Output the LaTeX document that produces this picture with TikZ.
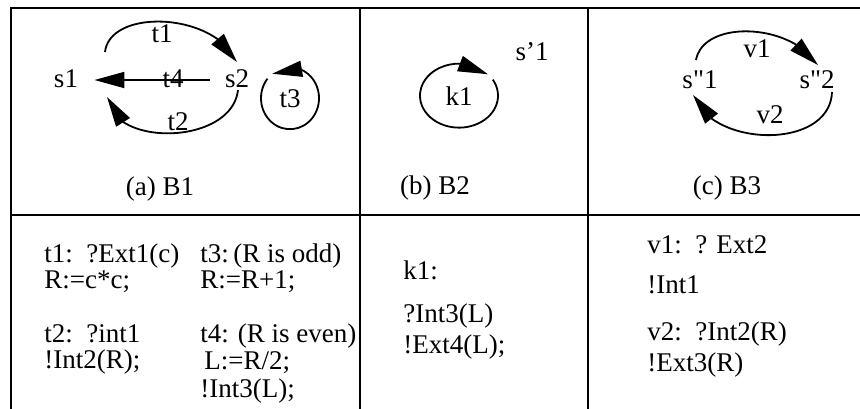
\documentclass[tikz,border=0pt]{standalone}
\usepackage{fontspec}
\setmainfont{Liberation Serif}[Ligatures=TeXOff]
\usetikzlibrary{arrows.meta, bending}
\tikzset{
  frame/.style = {line width=1.1pt},
  arr/.style = {-{Triangle[length=15pt, width=8pt]}, line width=0.9pt},
  state/.style = {inner sep=0pt, anchor=base},
  codeline/.style = {inner sep=0pt, anchor=base west}
}

\begin{document}
\begin{tikzpicture}[x=0.5pt, y=-0.5pt, font=\fontsize{13.5}{16}\selectfont]
\useasboundingbox (0,0) rectangle (860,408);
% table frame
\draw[frame] (11,420) -- (11,8) -- (880,8);
\draw[frame] (11,215) -- (880,215);
\draw[frame] (360,8) -- (360,420);
\draw[frame] (588,8) -- (588,420);

% (a) B1
\node[state] (s1) at (66,87) {s1};
\node[state] (s2) at (237,87) {s2};
\node[state] (t3) at (290,107) {t3};
\node[state] (lt1) at (162,42) {t1};
\node[state] (lt2) at (178,130) {t2};
\draw[arr] ([shift={(-15,-7)}]s2.base west) -- ([shift={(16,-7)}]s1.base east);
\node[state] (lt4) at (173,87) {t4};
\draw[arr] ([shift={(39,-35)}]s1.base) .. controls (110,8) and (215,12) .. ([shift={(0,-25)}]s2.base);
\draw[arr] ([shift={(1,3)}]s2.base) .. controls (232,145) and (112,148) .. ([shift={(41,10)}]s1.base);
\draw[arr] ([shift={(219:29 and 31)}]t3.center) arc[start angle=219, end angle=-128, x radius=29, y radius=31];
\node[state] (capa) at (160,195) {(a) B1};

% (b) B2
\node[state] (sp1) at (532,60) {s’1};
\node[state] (k1) at (459,105) {k1};
\draw[arr] ([shift={(-30:39 and 32)}]k1.center) arc[start angle=-30, end angle=318, x radius=39, y radius=32];
\node[state] (capb) at (435,194) {(b) B2};

% (c) B3
\node[state] (ss1) at (700,88) {s"1};
\node[state] (ss2) at (817,88) {s"2};
\node[state] (lv1) at (757,57) {v1};
\node[state] (lv2) at (770,123) {v2};
\draw[arr] ([shift={(-4,-28)}]ss1.base) .. controls (703,20) and (790,22) .. ([shift={(1,-23)}]ss2.base);
\draw[arr] ([shift={(15,4)}]ss2.base) .. controls (830,150) and (712,148) .. ([shift={(-7,7)}]ss1.base);
\node[state] (capc) at (727,194) {(c) B3};

% transition code
\node[codeline] (c1a) at (44,262) {t1:\ \ ?Ext1(c)};
\node[codeline] (c1b) at (44,288) {R:=c*c;};
\node[codeline] (c2a) at (44,342) {t2:\ \ ?int1};
\node[codeline] (c2b) at (44,368) {!Int2(R);};
\node[codeline] (c3a) at (200,262) {t3:\,(R is odd)};
\node[codeline] (c3b) at (200,288) {R:=R+1;};
\node[codeline] (c4a) at (200,342) {t4: (R is even)};
\node[codeline] (c4b) at (204,369) {L:=R/2;};
\node[codeline] (c4c) at (200,397) {!Int3(L);};
\node[codeline] (k1a) at (403,279) {k1:};
\node[codeline] (k1b) at (403,322) {?Int3(L)};
\node[codeline] (k1c) at (403,353) {!Ext4(L);};
\node[codeline] (v1a) at (647,253) {v1:\ \ ? Ext2};
\node[codeline] (v1b) at (647,293) {!Int1};
\node[codeline] (v2a) at (647,340) {v2:\ \ ?Int2(R)};
\node[codeline] (v2b) at (647,371) {!Ext3(R)};
\end{tikzpicture}
\end{document}
